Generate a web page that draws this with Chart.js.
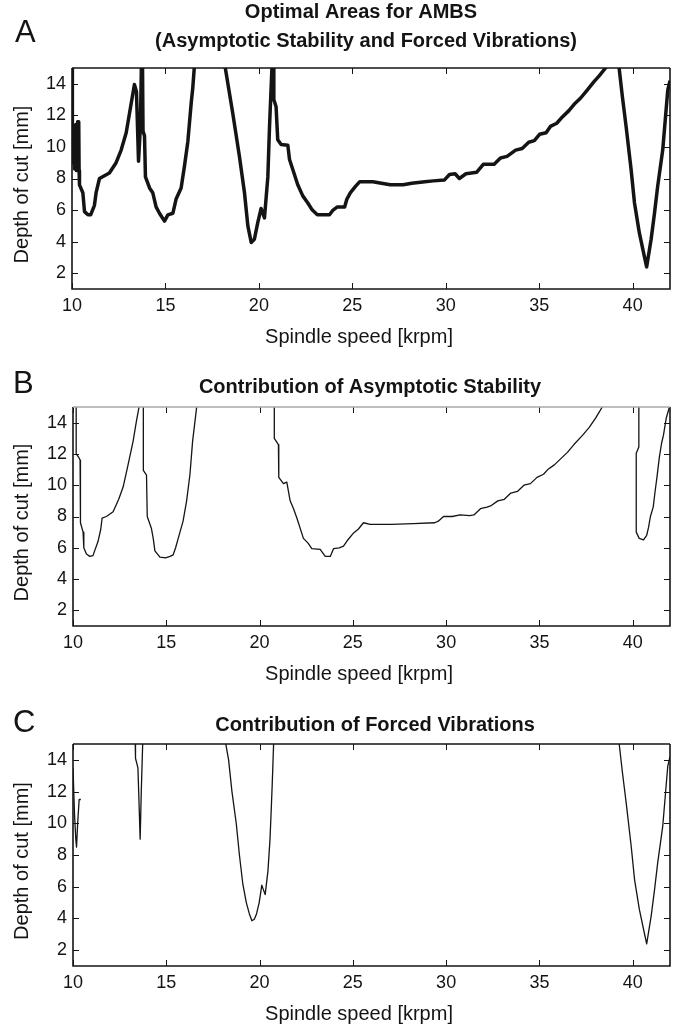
<!DOCTYPE html>
<html>
<head>
<meta charset="utf-8">
<title>Optimal Areas for AMBS</title>
<script src="https://cdn.jsdelivr.net/npm/chart.js@4.4.1/dist/chart.umd.min.js"></script>
<style>
  html, body { margin: 0; padding: 0; background: #fff; overflow: hidden; }
  body { width: 679px; height: 1025px; position: relative; }
  canvas { position: absolute; left: 0; }
</style>
</head>
<body>
<canvas id="chartA" width="679" height="350" style="top:0px"></canvas>
<canvas id="chartB" width="679" height="340" style="top:350px"></canvas>
<canvas id="chartC" width="679" height="335" style="top:690px"></canvas>
<script>
// axis ticks
const xTicks = [10, 15, 20, 25, 30, 35, 40];
const yTicks = [2, 4, 6, 8, 10, 12, 14];
const xTitle = 'Spindle speed [krpm]';
const yTitle = 'Depth of cut [mm]';

// A: optimal areas (asymptotic stability and forced vibrations); values > 15 are off the plot
const combinedSpeed = [10.00, 10.02, 10.06, 10.10, 10.14, 10.19, 10.24, 10.30, 10.36, 10.38, 10.40, 10.58, 10.67, 10.85, 11.00,
  11.20, 11.29, 11.47, 12.00, 12.36, 12.63, 12.90, 13.08, 13.34, 13.45, 13.56, 13.66, 13.72, 13.77, 13.80, 13.88, 13.93,
  14.15, 14.32, 14.50, 14.68, 14.95, 15.13, 15.40, 15.57, 15.84, 16.02, 16.20, 16.38, 16.46, 16.58, 18.12, 18.60, 18.96,
  19.23, 19.41, 19.59, 19.76, 19.94, 20.12, 20.30, 20.48, 20.57, 20.72, 20.78, 20.80, 20.92, 21.01, 21.19, 21.55, 21.64,
  21.82, 22.08, 22.35, 22.62, 22.86, 23.13, 23.78, 23.97, 24.20, 24.59, 24.71, 24.90, 25.17, 25.40, 26.10, 26.56, 27.03,
  27.72, 28.18, 28.88, 29.34, 29.92, 30.20, 30.50, 30.73, 31.08, 31.66, 32.01, 32.59, 32.93, 33.28, 33.74, 34.09, 34.44,
  34.74, 35.02, 35.37, 35.60, 35.94, 36.24, 36.59, 36.87, 37.22, 37.57, 37.91, 38.21, 38.55, 38.80, 39.22, 39.45, 39.65,
  39.92, 40.10, 40.36, 40.63, 40.75, 40.99, 41.17, 41.34, 41.61, 41.88, 42.00];
const combinedDepth = [15.6, 11.5, 9.0, 11.3, 8.6, 11.4, 8.5, 11.6, 11.6, 8.5, 7.6, 7.1, 5.9, 5.7, 5.7,
  6.3, 7.1, 8.0, 8.35, 9.0, 9.8, 10.9, 12.15, 13.95, 13.5, 9.1, 11.3, 15.6, 15.6, 11.0, 10.7, 8.1,
  7.4, 7.1, 6.2, 5.8, 5.3, 5.7, 5.8, 6.7, 7.4, 8.8, 10.35, 12.8, 13.7, 15.6, 15.6, 12.15, 9.4,
  7.1, 5.0, 3.95, 4.15, 5.2, 6.1, 5.5, 8.1, 11.3, 15.6, 15.6, 13.0, 12.55, 10.45, 10.15, 10.1, 9.2,
  8.55, 7.6, 6.9, 6.45, 6.0, 5.7, 5.7, 6.0, 6.2, 6.2, 6.7, 7.1, 7.5, 7.8, 7.8, 7.7, 7.6,
  7.6, 7.7, 7.8, 7.85, 7.9, 8.25, 8.3, 8.0, 8.3, 8.4, 8.9, 8.9, 9.3, 9.4, 9.8, 9.9, 10.3,
  10.4, 10.8, 10.9, 11.3, 11.5, 11.9, 12.3, 12.7, 13.1, 13.6, 14.1, 14.5, 15.0, 15.6, 15.6, 13.2, 11.3,
  8.55, 6.45, 4.55, 3.05, 2.4, 4.15, 5.8, 7.5, 9.8, 13.6, 14.2];

// B: contribution of asymptotic stability
const stabilitySpeed = [10.17, 10.17, 10.30, 10.38, 10.40, 10.54, 10.58, 10.72, 10.90, 11.07, 11.34, 11.49, 11.56, 11.79,
  12.15, 12.45, 12.69, 12.95, 13.22, 13.40, 13.54, 13.60, 13.77, 13.77, 13.94, 13.98, 14.20, 14.30, 14.39, 14.66, 14.96,
  15.20, 15.37, 15.50, 15.64, 15.90, 16.09, 16.27, 16.41, 16.63, 16.70, 20.79, 20.79, 21.01, 21.03, 21.28, 21.46, 21.64,
  21.82, 22.00, 22.35, 22.60, 22.80, 23.25, 23.52, 23.79, 23.97, 24.27, 24.50, 24.73, 25.04, 25.30, 25.57, 25.93, 27.06,
  28.23, 29.39, 29.58, 29.86, 30.33, 30.75, 31.26, 31.49, 31.84, 32.19, 32.42, 32.77, 33.12, 33.47, 33.82, 34.17, 34.52,
  34.87, 35.22, 35.45, 35.80, 36.15, 36.50, 36.85, 37.32, 37.67, 38.02, 38.37, 38.50, 40.33, 40.33, 40.19, 40.19, 40.35,
  40.58, 40.75, 40.85, 40.95, 41.10, 41.20, 41.30, 41.43, 41.55, 41.65, 41.80, 41.97, 42.00];
const stabilityDepth = [15.6, 12.0, 11.8, 11.6, 7.6, 7.0, 6.0, 5.6, 5.45, 5.5, 6.4, 7.2, 7.9, 8.0,
  8.3, 9.1, 9.9, 11.3, 12.8, 14.1, 15.0, 15.6, 15.6, 10.95, 10.65, 8.0, 7.25, 6.6, 5.8, 5.4, 5.35,
  5.45, 5.55, 6.0, 6.6, 7.7, 9.0, 10.7, 12.8, 15.0, 15.6, 15.6, 13.0, 12.6, 10.5, 10.1, 10.2, 9.0,
  8.5, 7.9, 6.6, 6.3, 5.95, 5.9, 5.45, 5.45, 5.95, 6.0, 6.1, 6.5, 6.95, 7.2, 7.6, 7.5, 7.5,
  7.55, 7.6, 7.7, 8.0, 8.0, 8.1, 8.05, 8.1, 8.5, 8.6, 8.7, 9.0, 9.1, 9.5, 9.6, 10.0, 10.1,
  10.5, 10.7, 11.0, 11.3, 11.7, 12.1, 12.6, 13.2, 13.7, 14.3, 15.0, 15.6, 15.6, 12.45, 12.05, 7.0, 6.6,
  6.5, 6.8, 7.3, 8.0, 8.6, 9.6, 10.5, 11.8, 12.7, 13.2, 14.3, 15.0, 15.3];

// C: contribution of forced vibrations (null = no curve)
const forcedSpeed = [10.00, 10.08, 10.15, 10.19, 10.25, 10.33, 10.42, 10.60, 13.33, 13.35, 13.48, 13.60, 13.66, 13.75,
  18.10, 18.34, 18.52, 18.75, 18.92, 19.10, 19.29, 19.45, 19.59, 19.72, 19.84, 19.98, 20.12, 20.30, 20.45, 20.56, 20.63,
  20.68, 20.77, 39.22, 39.45, 39.65, 39.92, 40.10, 40.36, 40.63, 40.75, 40.99, 41.17, 41.34, 41.61, 41.88, 42.00];
const forcedDepth = [13.5, 10.6, 9.0, 8.5, 10.0, 11.5, 11.5, null, 15.6, 14.1, 13.5, 9.0, 12.0, 15.6,
  15.6, 14.0, 12.0, 10.0, 8.0, 6.2, 5.0, 4.3, 3.85, 3.95, 4.3, 5.0, 6.1, 5.5, 7.0, 9.0, 11.0,
  12.5, 15.6, 15.6, 13.2, 11.3, 8.55, 6.45, 4.55, 3.05, 2.4, 4.15, 5.8, 7.5, 9.8, 13.6, 14.2];

const FONT = '"Liberation Sans", Arial, sans-serif';
const INK = '#141414';

// MATLAB-like box with inward ticks on all four sides
const frameTicks = {
  id: 'frameTicks',
  afterDraw(chart, args, opts) {
    const { ctx, chartArea: a, scales: { x, y } } = chart;
    ctx.save();
    ctx.strokeStyle = INK;
    ctx.lineWidth = 1;
    ctx.beginPath();
    xTicks.forEach(v => {
      const px = Math.round(x.getPixelForValue(v)) + 0.5;
      ctx.moveTo(px, a.bottom); ctx.lineTo(px, a.bottom - 6);
      ctx.moveTo(px, a.top); ctx.lineTo(px, a.top + 6);
    });
    yTicks.forEach(v => {
      const py = Math.round(y.getPixelForValue(v)) + 0.5;
      ctx.moveTo(a.left, py); ctx.lineTo(a.left + 6, py);
      ctx.moveTo(a.right, py); ctx.lineTo(a.right - 6, py);
    });
    ctx.stroke();
    ctx.lineWidth = 1.6;
    ctx.beginPath();
    ctx.moveTo(a.left, a.top); ctx.lineTo(a.left, a.bottom);
    ctx.lineTo(a.right, a.bottom); ctx.lineTo(a.right, a.top);
    ctx.stroke();
    ctx.strokeStyle = opts.topColor || INK;
    ctx.beginPath();
    ctx.moveTo(a.left, a.top); ctx.lineTo(a.right, a.top);
    ctx.stroke();
    ctx.restore();
  }
};

// panel letter, title lines and axis titles
const panelText = {
  id: 'panelText',
  afterDraw(chart, args, o) {
    const { ctx, chartArea: a } = chart;
    ctx.save();
    ctx.fillStyle = INK;
    ctx.textBaseline = 'alphabetic';
    ctx.textAlign = 'left';
    ctx.font = '31px ' + FONT;
    ctx.fillText(o.letter, o.letterX, o.letterY);
    ctx.textAlign = 'center';
    ctx.font = 'bold 20px ' + FONT;
    o.title.forEach((t, i) => ctx.fillText(t, o.titleX[i], o.titleY[i]));
    ctx.font = '20px ' + FONT;
    ctx.fillText(xTitle, 359, a.bottom + 54);
    ctx.translate(28, (a.top + a.bottom) / 2 + 6);
    ctx.rotate(-Math.PI / 2);
    ctx.fillText(yTitle, 0, 0);
    ctx.restore();
  }
};

function makePanel(id, speeds, depths, lineWidth, L, text) {
  const points = speeds.map((s, i) => ({ x: s, y: depths[i] }));
  return new Chart(document.getElementById(id), {
    type: 'line',
    data: {
      datasets: [{
        data: points,
        borderColor: INK,
        borderWidth: lineWidth,
        pointRadius: 0,
        tension: 0,
        spanGaps: false,
        borderJoinStyle: 'round'
      }]
    },
    options: {
      responsive: false,
      animation: false,
      layout: { padding: { top: L.top, right: 9, left: 0, bottom: 0 } },
      plugins: {
        legend: { display: false },
        tooltip: { enabled: false },
        frameTicks: { topColor: L.topColor },
        panelText: text
      },
      scales: {
        x: {
          type: 'linear', min: 10, max: 42,
          grid: { display: false, drawTicks: false },
          border: { display: false },
          afterBuildTicks: s => { s.ticks = xTicks.map(v => ({ value: v })); },
          afterFit: s => { s.height = L.xHeight; },
          ticks: { padding: 6, color: INK, maxRotation: 0, font: { family: FONT, size: 18 } }
        },
        y: {
          type: 'linear', min: 1, max: 15,
          grid: { display: false, drawTicks: false },
          border: { display: false },
          afterBuildTicks: s => { s.ticks = yTicks.map(v => ({ value: v })); },
          afterFit: s => { s.width = L.left; },
          ticks: { padding: 6, color: INK, font: { family: FONT, size: 18 } }
        }
      }
    },
    plugins: [frameTicks, panelText]
  });
}

makePanel('chartA', combinedSpeed, combinedDepth, 3.5,
  { top: 68, xHeight: 61, left: 72 },
  { letter: 'A', letterX: 15, letterY: 42,
    title: ['Optimal Areas for AMBS', '(Asymptotic Stability and Forced Vibrations)'],
    titleX: [361, 366], titleY: [18, 47] });

makePanel('chartB', stabilitySpeed, stabilityDepth, 1.3,
  { top: 57, xHeight: 64, left: 73, topColor: '#a8a8a8' },
  { letter: 'B', letterX: 13, letterY: 43,
    title: ['Contribution of Asymptotic Stability'],
    titleX: [370], titleY: [43] });

makePanel('chartC', forcedSpeed, forcedDepth, 1.3,
  { top: 54, xHeight: 59, left: 73 },
  { letter: 'C', letterX: 13, letterY: 42,
    title: ['Contribution of Forced Vibrations'],
    titleX: [375], titleY: [41] });
</script>
</body>
</html>
